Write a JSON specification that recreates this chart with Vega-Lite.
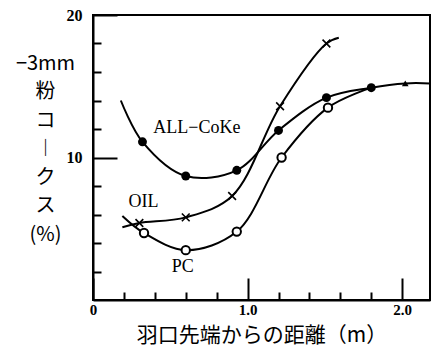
{
  "$schema": "https://vega.github.io/schema/vega-lite/v6.json",
  "width": 337,
  "height": 285,
  "autosize": {"type": "none"},
  "padding": {"left": 93, "top": 15, "right": 1, "bottom": 47},
  "background": "white",
  "config": {
    "font": "Liberation Serif",
    "view": {"stroke": "black", "strokeWidth": 2},
    "axis": {"domainColor": "black", "domainWidth": 2, "tickColor": "black", "tickWidth": 2, "labelColor": "black", "titleColor": "black", "grid": false}
  },
  "datasets": {
    "curves": [
      {"series": "ALL-CoKe", "x": 0.18, "y": 14.0},
      {"series": "ALL-CoKe", "x": 0.32, "y": 11.1},
      {"series": "ALL-CoKe", "x": 0.60, "y": 8.7},
      {"series": "ALL-CoKe", "x": 0.93, "y": 9.1},
      {"series": "ALL-CoKe", "x": 1.20, "y": 11.9},
      {"series": "ALL-CoKe", "x": 1.51, "y": 14.2},
      {"series": "ALL-CoKe", "x": 1.80, "y": 14.9},
      {"series": "ALL-CoKe", "x": 2.02, "y": 15.2},
      {"series": "ALL-CoKe", "x": 2.18, "y": 15.2},
      {"series": "OIL", "x": 0.19, "y": 5.1},
      {"series": "OIL", "x": 0.30, "y": 5.4},
      {"series": "OIL", "x": 0.60, "y": 5.8},
      {"series": "OIL", "x": 0.90, "y": 7.3},
      {"series": "OIL", "x": 1.21, "y": 13.6},
      {"series": "OIL", "x": 1.51, "y": 18.0},
      {"series": "OIL", "x": 1.59, "y": 18.4},
      {"series": "PC", "x": 0.19, "y": 5.9},
      {"series": "PC", "x": 0.33, "y": 4.7},
      {"series": "PC", "x": 0.60, "y": 3.5},
      {"series": "PC", "x": 0.93, "y": 4.8},
      {"series": "PC", "x": 1.22, "y": 10.0},
      {"series": "PC", "x": 1.52, "y": 13.5},
      {"series": "PC", "x": 1.80, "y": 14.9}
    ],
    "points": [
      {"series": "ALL-CoKe", "x": 0.32, "y": 11.1},
      {"series": "ALL-CoKe", "x": 0.60, "y": 8.7},
      {"series": "ALL-CoKe", "x": 0.93, "y": 9.1},
      {"series": "ALL-CoKe", "x": 1.20, "y": 11.9},
      {"series": "ALL-CoKe", "x": 1.51, "y": 14.2},
      {"series": "ALL-CoKe", "x": 1.80, "y": 14.9},
      {"series": "OIL", "x": 0.30, "y": 5.4},
      {"series": "OIL", "x": 0.60, "y": 5.8},
      {"series": "OIL", "x": 0.90, "y": 7.3},
      {"series": "OIL", "x": 1.21, "y": 13.6},
      {"series": "OIL", "x": 1.51, "y": 18.0},
      {"series": "PC", "x": 0.33, "y": 4.7},
      {"series": "PC", "x": 0.60, "y": 3.5},
      {"series": "PC", "x": 0.93, "y": 4.8},
      {"series": "PC", "x": 1.22, "y": 10.0},
      {"series": "PC", "x": 1.52, "y": 13.5},
      {"series": "end", "x": 2.02, "y": 15.2}
    ],
    "labels": [
      {"text": "ALL−CoKe", "x": 0.39, "y": 12.1},
      {"text": "OIL", "x": 0.23, "y": 6.85},
      {"text": "PC", "x": 0.51, "y": 2.3}
    ]
  },
  "resolve": {"axis": {"x": "independent", "y": "independent"}},
  "layer": [
    {
      "data": {"name": "curves"},
      "mark": {"type": "line", "interpolate": "catmull-rom", "color": "black", "strokeWidth": 2},
      "encoding": {
        "x": {"field": "x", "type": "quantitative", "scale": {"domain": [0, 2.18], "nice": false, "zero": false},
          "axis": {"orient": "bottom", "values": [0, 1, 2], "labelExpr": "datum.value == 0 ? '0' : format(datum.value, '.1f')", "labelFont": "Liberation Serif", "labelFontWeight": "bold", "labelFontSize": 15, "tickSize": -22, "labelPadding": 24, "labelFlush": false, "labelBaseline": "top",
            "title": "羽口先端からの距離（m）", "titleFont": "Noto Sans CJK JP", "titleFontSize": 21, "titleFontWeight": "normal", "titleY": 35, "titleBaseline": "middle"}},
        "y": {"field": "y", "type": "quantitative", "scale": {"domain": [0, 20], "nice": false, "zero": false},
          "axis": {"orient": "left", "values": [10, 20], "labelFont": "Liberation Serif", "labelFontWeight": "bold", "labelFontSize": 16, "tickSize": -24, "labelPadding": 35, "labelFlush": false,
            "title": ["−3mm", "粉", "コ", "︱", "ク", "ス", "(%)"], "titleFont": "Noto Sans CJK JP", "titleFontSize": 20, "titleFontWeight": "normal", "titleAngle": 0, "titleX": -48, "titleY": 48, "titleAlign": "center", "titleBaseline": "middle", "titleLineHeight": 28.5}},
        "detail": {"field": "series"}
      }
    },
    {
      "data": {"name": "points"},
      "transform": [{"filter": "datum.series == 'ALL-CoKe'"}],
      "mark": {"type": "point", "shape": "circle", "filled": true, "color": "black", "size": 80, "opacity": 1},
      "encoding": {
        "x": {"field": "x", "type": "quantitative", "axis": {"orient": "bottom", "values": [0.2, 0.4, 0.6, 0.8, 1.2, 1.4, 1.6, 1.8], "labels": false, "domain": false, "tickSize": -8, "title": null}},
        "y": {"field": "y", "type": "quantitative", "axis": {"orient": "left", "values": [2, 4, 6, 8, 12, 14, 16, 18], "labels": false, "domain": false, "tickSize": -8, "title": null}}
      }
    },
    {
      "data": {"name": "points"},
      "transform": [{"filter": "datum.series == 'PC'"}],
      "mark": {"type": "point", "shape": "circle", "filled": true, "fill": "white", "stroke": "black", "strokeWidth": 2, "size": 70, "opacity": 1},
      "encoding": {
        "x": {"field": "x", "type": "quantitative", "axis": null},
        "y": {"field": "y", "type": "quantitative", "axis": null}
      }
    },
    {
      "data": {"name": "points"},
      "transform": [{"filter": "datum.series == 'OIL'"}],
      "mark": {"type": "point", "shape": "M-1,-1L1,1M-1,1L1,-1", "filled": false, "stroke": "black", "strokeWidth": 1.6, "size": 60, "opacity": 1},
      "encoding": {
        "x": {"field": "x", "type": "quantitative", "axis": null},
        "y": {"field": "y", "type": "quantitative", "axis": null}
      }
    },
    {
      "data": {"name": "points"},
      "transform": [{"filter": "datum.series == 'end'"}],
      "mark": {"type": "point", "shape": "triangle-up", "filled": true, "color": "black", "size": 45, "opacity": 1},
      "encoding": {
        "x": {"field": "x", "type": "quantitative", "axis": null},
        "y": {"field": "y", "type": "quantitative", "axis": null}
      }
    },
    {
      "data": {"name": "labels"},
      "mark": {"type": "text", "align": "left", "baseline": "middle", "font": "Liberation Serif", "fontSize": 18, "color": "black"},
      "encoding": {
        "x": {"field": "x", "type": "quantitative", "axis": null},
        "y": {"field": "y", "type": "quantitative", "axis": null},
        "text": {"field": "text"}
      }
    }
  ]
}
